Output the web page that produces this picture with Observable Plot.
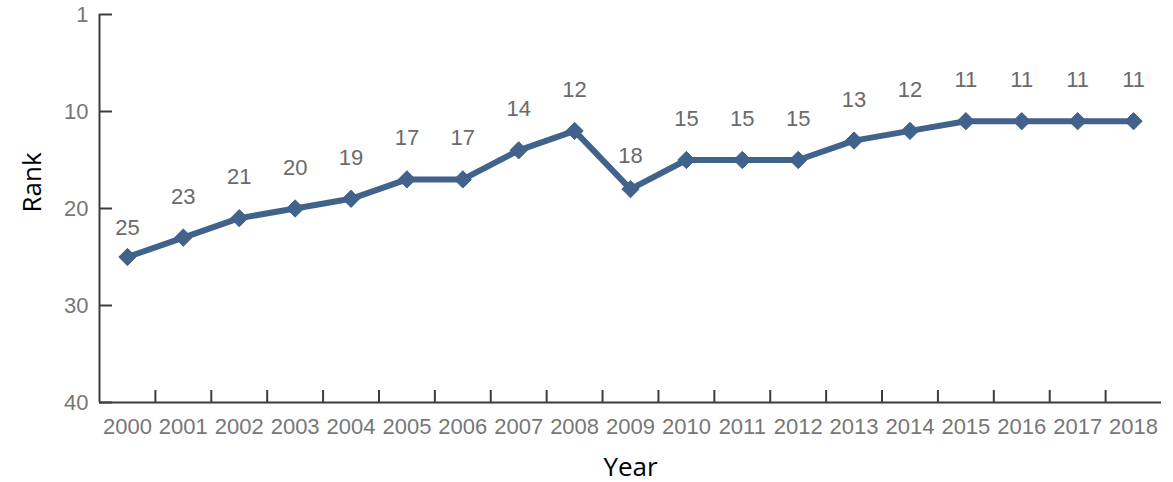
<!DOCTYPE html>
<html>
<head>
<meta charset="utf-8">
<script src="https://cdn.jsdelivr.net/npm/d3@7"></script>
<script src="https://cdn.jsdelivr.net/npm/@observablehq/plot@0.6"></script>
<style>
  html, body { margin: 0; padding: 0; background: #fff; }
</style>
</head>
<body>
<div id="chart"></div>
<script>
const years = [2000, 2001, 2002, 2003, 2004, 2005, 2006, 2007, 2008, 2009, 2010, 2011, 2012, 2013, 2014, 2015, 2016, 2017, 2018];
const ranks = [25, 23, 21, 20, 19, 17, 17, 14, 12, 18, 15, 15, 15, 13, 12, 11, 11, 11, 11];
const yTickValues = [0, 10, 20, 30, 40];
const yTickLabels = ["1", "10", "20", "30", "40"];
const xTitle = "Year";
const yTitle = "Rank";

const data = years.map((year, i) => ({year, rank: ranks[i]}));
const boundaries = years.slice(0, -1).map(y => y + 0.5);
const x0 = years[0] - 0.5, x1 = years[years.length - 1] + 0.5;

const lineColor = "#41628b";
const axisColor = "#3c3c3c";
const tickText = "#777777";
const numFont = "'Liberation Sans', Arial, sans-serif";

const chart = Plot.plot({
  width: 1173,
  height: 482,
  marginLeft: 99,
  marginRight: 12,
  marginTop: 14,
  marginBottom: 80,
  style: {background: "#fff", fontFamily: numFont},
  x: {domain: [x0, x1], axis: null},
  y: {domain: [0, 40], reverse: true, axis: null},
  marks: [
    Plot.axisY({ticks: yTickValues, tickFormat: (d) => yTickLabels[yTickValues.indexOf(d)], tickSize: 0, tickPadding: 11, fontSize: 22, fill: tickText, label: null}),
    Plot.axisY({ticks: yTickValues, tickFormat: () => "", tickSize: 13, dx: 13, stroke: axisColor, strokeWidth: 2, label: null}),
    Plot.axisX({ticks: years, tickFormat: (d) => String(d), tickSize: 0, tickPadding: 16, fontSize: 22, fill: tickText, label: null}),
    Plot.axisX({ticks: boundaries, tickFormat: () => "", tickSize: 12, dy: -12, stroke: axisColor, strokeWidth: 2, label: null}),
    Plot.ruleX([x0], {y1: 0, y2: 40, stroke: axisColor, strokeWidth: 2}),
    Plot.ruleY([40], {x1: x0, x2: x1, stroke: axisColor, strokeWidth: 2}),
    Plot.line(data, {x: "year", y: "rank", stroke: lineColor, strokeWidth: 6, strokeLinejoin: "miter"}),
    Plot.dot(data, {x: "year", y: "rank", symbol: "diamond2", r: 7.8, fill: lineColor, stroke: lineColor, strokeWidth: 1}),
    Plot.text(data.filter(d => d.year !== 2000 && d.year !== 2009), {x: "year", y: "rank", text: "rank", dy: -41, fontSize: 22, fill: "#6a6a6a"}),
    Plot.text(data.filter(d => d.year === 2000), {x: "year", y: "rank", text: "rank", dy: -29, fontSize: 22, fill: "#6a6a6a"}),
    Plot.text(data.filter(d => d.year === 2009), {x: "year", y: "rank", text: "rank", dy: -33, fontSize: 22, fill: "#6a6a6a"}),
    Plot.text([yTitle], {frameAnchor: "left", dx: -67, dy: 4, rotate: -90, fontSize: 26, fill: "#000", fontFamily: "'Open Sans', sans-serif"}),
    Plot.text([xTitle], {frameAnchor: "bottom", dy: 73, fontSize: 26, fill: "#000", fontFamily: "'Open Sans', sans-serif"})
  ]
});
document.getElementById("chart").append(chart);
</script>
</body>
</html>
